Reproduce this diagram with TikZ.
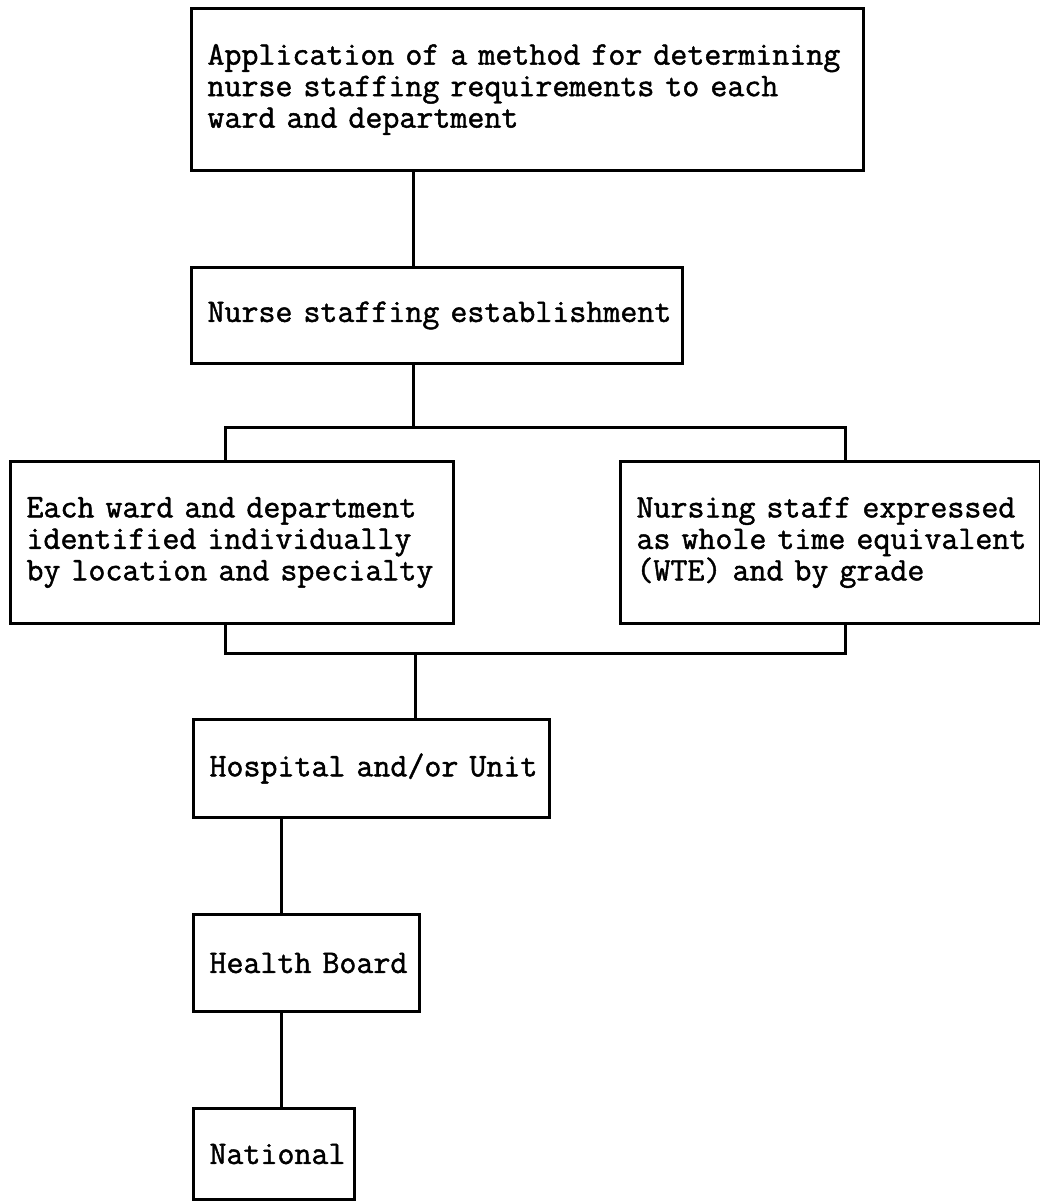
\documentclass[tikz,border=0pt]{standalone}
\usepackage{fontspec}
\newfontfamily\tw{Latin Modern Mono}[FakeBold=1.4]
\newcommand\boxfont{\tw\fontsize{33}{31.5}\selectfont\hyphenpenalty=10000\relax}
\newcommand\tline[1]{\mbox{#1}}
\begin{document}
\begin{tikzpicture}[x=1pt,y=-1pt,
  box/.style={draw, line width=3pt, inner xsep=16pt, inner ysep=0pt, align=left,
    font=\boxfont, anchor=north west},
  conn/.style={line width=3pt}]
\useasboundingbox (0,0) rectangle (1040,1203);
% boxes (positioned by north-west corner, sized by width/height)
\node[box, text width=640pt, minimum height=162pt] (b1) at (190,7)
  {\tline{Application of a method for determining}\\\tline{nurse staffing requirements to each}\\\tline{ward and department}};
\node[box, text width=459pt, minimum height=96pt] (b2) at (190,266)
  {\tline{Nurse staffing establishment}};
\node[box, text width=411pt, minimum height=162pt] (b3) at (9,460)
  {\tline{Each ward and department}\\\tline{identified individually}\\\tline{by location and specialty}};
\node[box, text width=388pt, minimum height=162pt] (b4) at (619,460)
  {\tline{Nursing staff expressed}\\\tline{as whole time equivalent}\\\tline{(WTE) and by grade}};
\node[box, text width=324pt, minimum height=98pt] (b5) at (192,718)
  {\tline{Hospital and/or Unit}};
\node[box, text width=194pt, minimum height=97pt] (b6) at (192,913)
  {\tline{Health Board}};
\node[box, text width=129pt, minimum height=91pt] (b7) at (192,1107)
  {\tline{National}};
% guide coordinates
\coordinate (xa) at (413,0);
\coordinate (xl) at (225,0);
\coordinate (xr) at (845,0);
\coordinate (xm) at (415,0);
\coordinate (xs) at (281,0);
\coordinate (top) at (0,427);
\coordinate (bot) at (0,653);
% connectors
\draw[conn] (b1.south -| xa) -- (b2.north -| xa);
\draw[conn] (b2.south -| xa) -- (top -| xa);
\draw[conn] (b3.north -| xl) -- (top -| xl) -- (top -| xr) -- (b4.north -| xr);
\draw[conn] (b3.south -| xl) -- (bot -| xl) -- (bot -| xr) -- (b4.south -| xr);
\draw[conn] (bot -| xm) -- (b5.north -| xm);
\draw[conn] (b5.south -| xs) -- (b6.north -| xs);
\draw[conn] (b6.south -| xs) -- (b7.north -| xs);
\end{tikzpicture}
\end{document}
